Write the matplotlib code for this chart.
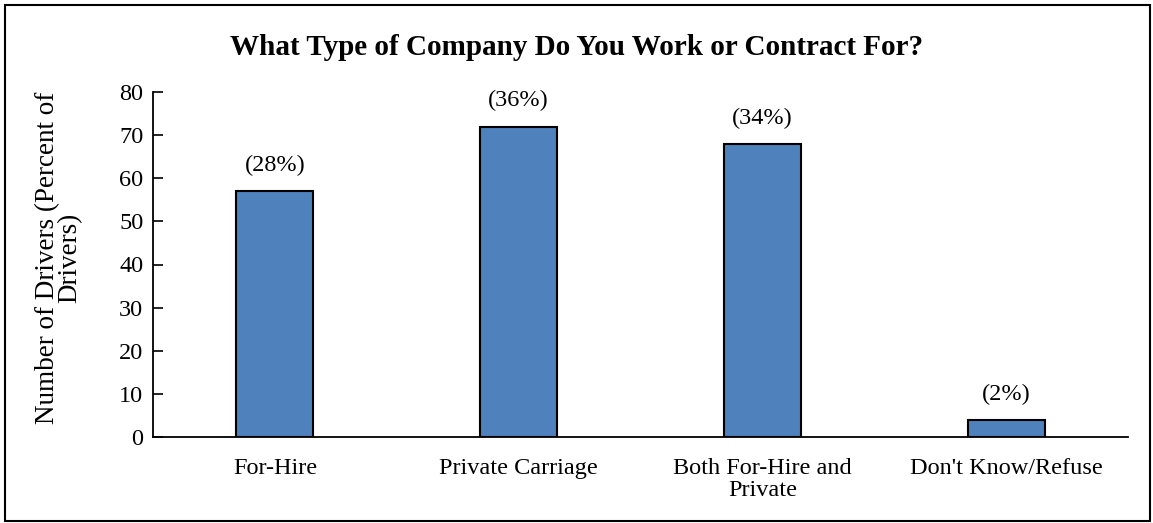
import matplotlib.pyplot as plt
from matplotlib.patches import Rectangle

# Survey responses
categories = ["For-Hire", "Private Carriage", "Both For-Hire and\nPrivate", "Don't Know/Refuse"]
drivers = [57, 72, 68, 4]
percent_labels = ["(28%)", "(36%)", "(34%)", "(2%)"]

plt.rcParams['font.family'] = ['Liberation Serif', 'DejaVu Serif']

fig = plt.figure(figsize=(11.53, 5.23), dpi=100)
ax = fig.add_axes([153 / 1153, 86 / 523, 975 / 1153, 345 / 523])

x = range(len(categories))
bars = ax.bar(x, drivers, width=0.315, color='#4F81BD', edgecolor='black', linewidth=1.5)

for bar, lab in zip(bars, percent_labels):
    ax.text(bar.get_x() + bar.get_width() / 2, bar.get_height() + 3.5, lab,
            ha='center', va='bottom', fontsize=17.5)

ax.set_xlim(-0.5, 3.5)
ax.set_ylim(0, 80)
ax.set_yticks(range(0, 81, 10))
ax.set_xticks(list(x))
ax.set_xticklabels(categories, fontsize=17.5, linespacing=1.1)
ax.tick_params(axis='y', direction='in', length=7, width=1.2, labelsize=17.5, pad=7)
ax.tick_params(axis='x', length=0, pad=15)

for side in ('top', 'right'):
    ax.spines[side].set_visible(False)
for side in ('left', 'bottom'):
    ax.spines[side].set_linewidth(1.3)

ax.set_ylabel("Number of Drivers (Percent of\nDrivers)", fontsize=19.5, linespacing=0.9)
ax.yaxis.set_label_coords(-0.072, 0.52)

fig.text(0.5, 0.91, "What Type of Company Do You Work or Contract For?",
         ha='center', va='center', fontsize=21, fontweight='bold')

# outer frame around the chart
fig.patches.append(Rectangle((5 / 1153, 2 / 523), 1145 / 1153, 516 / 523,
                             transform=fig.transFigure, fill=False,
                             edgecolor='black', linewidth=1.5))

fig.savefig("out.png", dpi=100)
